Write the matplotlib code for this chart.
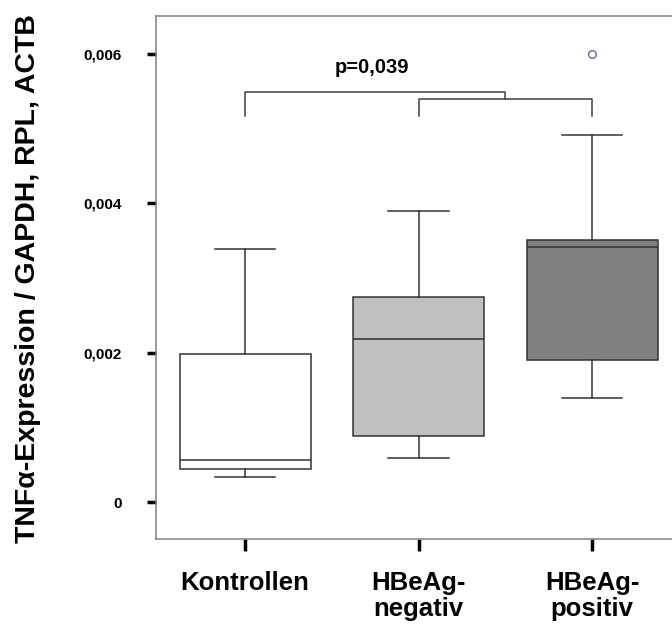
import matplotlib

matplotlib.use("Agg")
import matplotlib.pyplot as plt  # noqa: E402
from matplotlib.ticker import FuncFormatter  # noqa: E402

# five-number summaries per group (relative TNFa expression)
groups = ["Kontrollen", "HBeAg-\nnegativ", "HBeAg-\npositiv"]
whislo = [0.00034, 0.00059, 0.00139]
q1 = [0.00044, 0.00088, 0.00190]
med = [0.00056, 0.00218, 0.00341]
q3 = [0.00198, 0.00274, 0.00351]
whishi = [0.00339, 0.00390, 0.00491]
fliers = [[], [], [0.00599]]
box_colors = ["white", "#c0c0c0", "#808080"]

yticks = [0, 0.002, 0.004, 0.006]
p_label = "p=0,039"

FONT = "Liberation Sans"
EDGE = "#333333"

stats = [dict(label=g, whislo=lo, q1=a, med=m, q3=b, whishi=hi, fliers=f)
         for g, lo, a, m, b, hi, f in zip(groups, whislo, q1, med, q3, whishi, fliers)]

fig = plt.figure(figsize=(6.72, 6.27), dpi=100)
ax = fig.add_axes([156 / 672, 1 - 538.7 / 627, (680 - 156) / 672, (538.7 - 15.7) / 627])

lw = 1.1
bp = ax.bxp(stats, positions=[1, 2, 3], widths=0.755, capwidths=0.35,
            patch_artist=True,
            boxprops=dict(edgecolor=EDGE, linewidth=lw),
            medianprops=dict(color=EDGE, linewidth=lw),
            whiskerprops=dict(color=EDGE, linewidth=lw),
            capprops=dict(color=EDGE, linewidth=lw),
            flierprops=dict(marker="o", markersize=5.5, markerfacecolor="none",
                            markeredgecolor="#5f6f85", markeredgewidth=1.0))
for patch, c in zip(bp["boxes"], box_colors):
    patch.set_facecolor(c)

# significance brackets: Kontrollen vs. the two HBeAg groups
leg_y, top1, top2 = 0.00517, 0.00549, 0.00539
br = dict(color="#404040", linewidth=1.1)
ax.plot([1, 1, 2.5, 2.5], [leg_y, top1, top1, top2], **br)
ax.plot([2, 2, 3, 3], [leg_y, top2, top2, leg_y], **br)
ax.text(1.73, 0.00582, p_label, ha="center", va="center",
        fontsize=14.5, fontweight="bold", family=FONT)

ax.set_xlim(0.487, 3.507)
ax.set_ylim(-0.000491, 0.006508)
ax.set_xticks([1, 2, 3])
ax.set_xticklabels(groups, fontsize=18.5, fontweight="bold", family=FONT,
                   linespacing=1.1)
ax.set_yticks(yticks)
ax.yaxis.set_major_formatter(FuncFormatter(
    lambda v, _: "0" if v == 0 else f"{v:.3f}".replace(".", ",")))
for lab in ax.get_yticklabels():
    lab.set_fontsize(11)
    lab.set_fontweight("bold")
    lab.set_family(FONT)
ax.tick_params(axis="y", length=6.5, width=2.5, color="black", pad=18)
ax.tick_params(axis="x", length=8.5, width=2.5, color="black", pad=15)

for side in ("left", "top", "bottom", "right"):
    ax.spines[side].set_color("#808080")
    ax.spines[side].set_linewidth(1.1)

fig.text(15 / 672, 1 - 279 / 627, "TNFα-Expression / GAPDH, RPL, ACTB",
         rotation=90, ha="left", va="center", fontsize=20.5,
         fontweight="bold", family=FONT)

fig.savefig("out.png", dpi=100)
